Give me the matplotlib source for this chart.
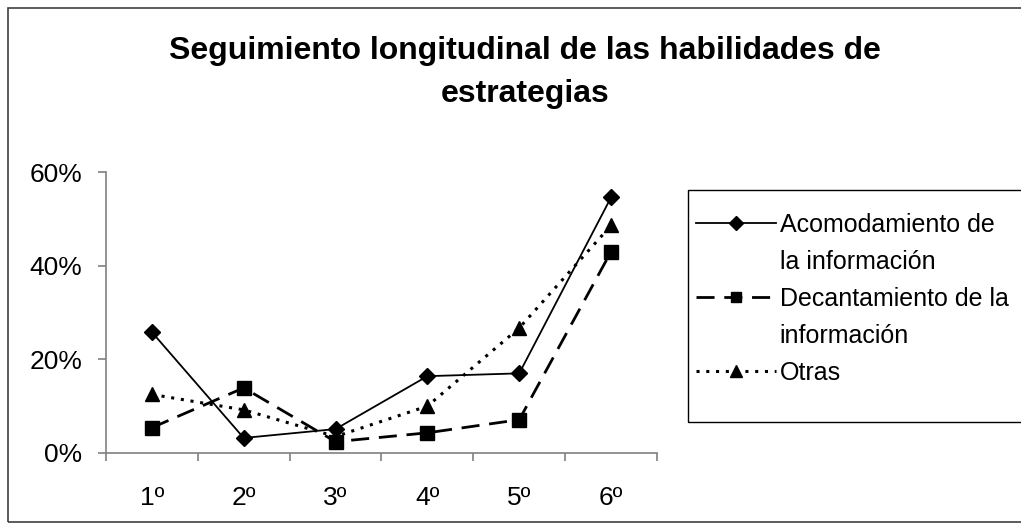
import matplotlib.pyplot as plt
from matplotlib.lines import Line2D
from matplotlib.patches import Rectangle
from matplotlib.ticker import FixedLocator, PercentFormatter

plt.rcParams['font.family'] = ['Liberation Sans', 'DejaVu Sans']

cursos = ['1º', '2º', '3º', '4º', '5º', '6º']
acomodamiento = [25.8, 3.2, 5.1, 16.4, 17.0, 54.6]
decantamiento = [5.4, 13.9, 2.4, 4.3, 7.1, 43.0]
otras = [12.5, 9.2, 3.5, 10.0, 26.7, 48.6]

fig = plt.figure(figsize=(10.21, 5.31), dpi=100)
ax = fig.add_axes([0.1038, 0.147, 0.5397, 0.529])

# marco exterior del grafico
fig.patches.append(Rectangle((0.008, 0.017), 1.2, 0.968, transform=fig.transFigure,
                             fill=False, edgecolor='#404040', linewidth=1.2))

x = range(len(cursos))
ax.plot(x, acomodamiento, color='black', linestyle='-', linewidth=1.3,
        marker='D', markersize=8.5, label='Acomodamiento de')
ax.plot(x, decantamiento, color='black', linestyle=(0, (6.5, 3.5)), linewidth=2.0,
        marker='s', markersize=9.5, label='Decantamiento de la')
ax.plot(x, otras, color='black', linestyle=(0, (1, 2.2)), linewidth=2.2,
        marker='^', markersize=10.5, label='Otras')

ax.set_xlim(-0.5, len(cursos) - 0.5)
ax.set_ylim(0, 60)
ax.yaxis.set_major_locator(FixedLocator([0, 20, 40, 60]))
ax.yaxis.set_major_formatter(PercentFormatter(decimals=0))
ax.set_xticks(list(x))
ax.set_xticklabels(cursos)
ax.set_xticks([i - 0.5 for i in range(len(cursos) + 1)], minor=True)

for s in ['top', 'right']:
    ax.spines[s].set_visible(False)
for s in ['left', 'bottom']:
    ax.spines[s].set_color('#808080')
    ax.spines[s].set_linewidth(1.2)

ax.tick_params(axis='x', which='major', length=0, pad=24, labelsize=19)
ax.tick_params(axis='x', which='minor', length=6, color='#808080', width=1.2)
ax.tick_params(axis='y', which='major', length=6, color='#808080', width=1.2,
               pad=11, labelsize=19)

fig.text(0.514, 0.864, 'Seguimiento longitudinal de las habilidades de\nestrategias',
         ha='center', va='center', fontsize=23, fontweight='bold', linespacing=1.55)

# caja de la leyenda
fig.patches.append(Rectangle((0.6738, 0.2053), 0.5, 0.437, transform=fig.transFigure,
                             fill=False, edgecolor='black', linewidth=1.0))

# leyenda con una fila por linea de texto
blank = Line2D([], [], linestyle='none')
h1, h2, h3 = ax.get_lines()
handles = [h1, blank, h2, blank, h3]
labels = ['Acomodamiento de', 'la información', 'Decantamiento de la', 'información', 'Otras']
leg = fig.legend(handles, labels, loc='upper left', bbox_to_anchor=(0.6595, 0.642),
                 frameon=False, fontsize=18, handlelength=3.2,
                 handletextpad=0.15, labelspacing=0.52, borderpad=0.9,
                 borderaxespad=0, markerscale=0.8)

fig.savefig('out.png', dpi=100)
